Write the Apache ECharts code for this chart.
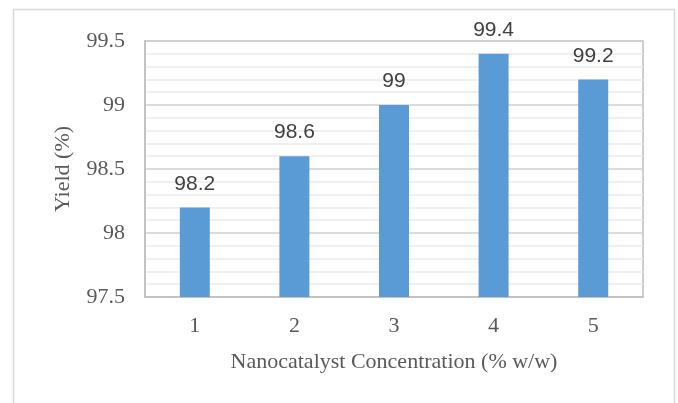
<!DOCTYPE html>
<html>
<head>
<meta charset="utf-8">
<script src="https://cdn.jsdelivr.net/npm/echarts@6/dist/echarts.min.js"></script>
<style>
html,body{margin:0;padding:0;background:#fff;}
#c{width:678px;height:403px;}
</style>
</head>
<body>
<div id="c"></div>
<script>
const categories = ['1', '2', '3', '4', '5'];
const yieldValues = [98.2, 98.6, 99, 99.4, 99.2];
const xTitle = 'Nanocatalyst Concentration (% w/w)';
const yTitle = 'Yield (%)';

const chart = echarts.init(document.getElementById('c'));
chart.setOption({
  animation: false,
  graphic: [{
    type: 'rect',
    shape: {x: 13.5, y: 9.5, width: 661, height: 420},
    style: {fill: 'none', stroke: '#d9d9d9', lineWidth: 1.5},
    silent: true
  }],
  grid: {left: 145, right: 35, top: 41, bottom: 106, show: true, borderColor: '#bfbfbf', borderWidth: 1.5, backgroundColor: 'transparent'},
  xAxis: {
    type: 'category',
    data: categories,
    name: xTitle,
    nameLocation: 'middle',
    nameGap: 54,
    nameTextStyle: {fontFamily: 'Liberation Serif', fontSize: 22, color: '#595959'},
    axisLine: {show: true, lineStyle: {color: '#bfbfbf', width: 1.5}},
    axisTick: {show: false},
    axisLabel: {fontFamily: 'Liberation Serif', fontSize: 22, color: '#595959', margin: 18}
  },
  yAxis: {
    type: 'value',
    min: 97.5,
    max: 99.5,
    interval: 0.5,
    name: yTitle,
    nameLocation: 'middle',
    nameGap: 71,
    nameTextStyle: {fontFamily: 'Liberation Serif', fontSize: 22, color: '#595959'},
    axisLine: {show: true, lineStyle: {color: '#bfbfbf', width: 1.5}},
    axisTick: {show: false},
    axisLabel: {fontFamily: 'Liberation Serif', fontSize: 22, color: '#595959', margin: 20},
    splitLine: {show: true, lineStyle: {color: '#d0d0d0', width: 1.5}},
    minorTick: {show: false, splitNumber: 5},
    minorSplitLine: {show: true, lineStyle: {color: '#ececec', width: 1.5}}
  },
  series: [{
    type: 'bar',
    data: yieldValues,
    barWidth: 30,
    itemStyle: {color: '#5b9bd5'},
    label: {show: true, position: 'top', distance: 13, fontFamily: 'Liberation Sans', fontSize: 21, color: '#404040'}
  }]
});
</script>
</body>
</html>
